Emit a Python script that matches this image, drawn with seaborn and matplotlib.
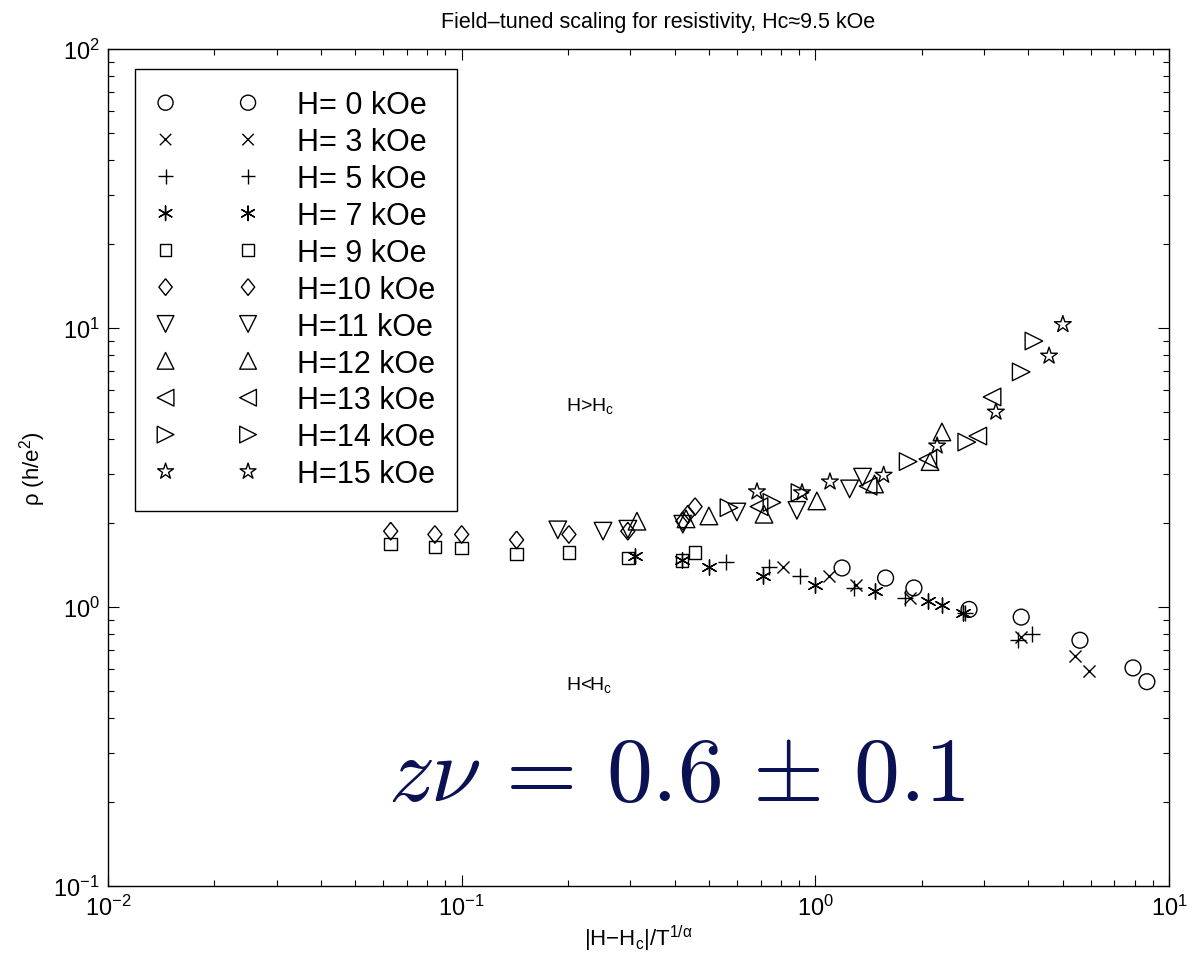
import pandas as pd
import seaborn as sns
import matplotlib
matplotlib.use('Agg')
import matplotlib.pyplot as plt

# scaled resistivity vs |H-Hc|/T^(1/alpha)
x_h0 = [1.19, 1.58, 1.90, 2.72, 3.82, 5.60, 7.91, 8.66]
y_h0 = [1.38, 1.27, 1.17, 0.98, 0.92, 0.76, 0.605, 0.54]
x_h3 = [0.81, 1.09, 1.30, 1.85, 3.82, 5.42, 5.94]
y_h3 = [1.39, 1.29, 1.20, 1.08, 0.78, 0.67, 0.59]
x_h5 = [0.56, 0.74, 0.905, 1.29, 1.79, 2.65, 3.74, 4.10]
y_h5 = [1.45, 1.39, 1.29, 1.17, 1.08, 0.95, 0.76, 0.80]
x_h7 = [0.31, 0.42, 0.50, 0.71, 1.00, 1.47, 2.08, 2.28, 2.62]
y_h7 = [1.52, 1.47, 1.39, 1.29, 1.20, 1.14, 1.05, 1.02, 0.95]
x_h9 = [0.063, 0.084, 0.100, 0.143, 0.201, 0.295, 0.420, 0.457]
y_h9 = [1.68, 1.64, 1.63, 1.55, 1.57, 1.50, 1.47, 1.57]
x_h10 = [0.063, 0.084, 0.100, 0.143, 0.201, 0.295, 0.422, 0.436, 0.457]
y_h10 = [1.87, 1.82, 1.82, 1.74, 1.82, 1.87, 2.03, 2.15, 2.29]
x_h11 = [0.187, 0.251, 0.295, 0.422, 0.600, 0.887, 1.25, 1.36]
y_h11 = [1.89, 1.87, 1.90, 1.98, 2.19, 2.22, 2.65, 2.92]
x_h12 = [0.313, 0.431, 0.500, 0.716, 1.01, 1.47, 2.11, 2.28]
y_h12 = [2.03, 2.07, 2.12, 2.15, 2.40, 2.76, 3.32, 4.24]
x_h13 = [0.693, 1.41, 2.08, 2.88, 3.16]
y_h13 = [2.29, 2.71, 3.39, 4.10, 5.66]
x_h14 = [0.570, 0.754, 0.905, 1.83, 2.68, 3.82, 4.15]
y_h14 = [2.27, 2.37, 2.57, 3.32, 3.90, 6.96, 8.98]
x_h15 = [0.684, 0.917, 1.10, 1.56, 2.21, 3.24, 4.58, 5.01]
y_h15 = [2.59, 2.57, 2.81, 2.97, 3.78, 5.00, 7.94, 10.3]

fields = [0, 3, 5, 7, 9, 10, 11, 12, 13, 14, 15]
xs = [x_h0, x_h3, x_h5, x_h7, x_h9, x_h10, x_h11, x_h12, x_h13, x_h14, x_h15]
ys = [y_h0, y_h3, y_h5, y_h7, y_h9, y_h10, y_h11, y_h12, y_h13, y_h14, y_h15]

rows = []
for h, xv, yv in zip(fields, xs, ys):
    for a, b in zip(xv, yv):
        rows.append({'H': h, 'x': a, 'rho': b})
df = pd.DataFrame(rows)

diamond = [(0, 1), (0.8, 0), (0, -1), (-0.8, 0), (0, 1)]
markers = ['o', 'x', '+', (6, 2, 0), 's', diamond, 'v', '^', '<', '>', '*']
sizes = [130, 75, 120, 120, 80, 160, 160, 160, 160, 160, 160]
line_art = [False, True, True, True, False, False, False, False, False, False, False]

sns.set_style('ticks')
plt.rcParams['font.family'] = ['Liberation Sans', 'DejaVu Sans']
plt.rcParams['mathtext.fontset'] = 'custom'
plt.rcParams['mathtext.rm'] = 'Liberation Sans'
plt.rcParams['mathtext.it'] = 'Liberation Sans'
for key in ['text.color', 'axes.labelcolor', 'xtick.color', 'ytick.color', 'axes.edgecolor']:
    plt.rcParams[key] = 'k'

fig = plt.figure(figsize=(12.02, 9.62), dpi=100)
ax = fig.add_axes([108 / 1202, 1 - 887 / 962, 1061 / 1202, 837 / 962])

for h, m, s, la in zip(fields, markers, sizes, line_art):
    sub = df[df['H'] == h]
    lab = 'H=%2d kOe' % h if h >= 10 else 'H= %d kOe' % h
    if la:
        sns.scatterplot(data=sub, x='x', y='rho', marker=m, s=s, color='k',
                        linewidth=1.0, ax=ax, label=lab)
    else:
        sns.scatterplot(data=sub, x='x', y='rho', marker=m, s=s, color='k',
                        facecolor='none', edgecolor='k', linewidth=1.0,
                        ax=ax, label=lab)

ax.set_xscale('log')
ax.set_yscale('log')
ax.set_xlim(1e-2, 1e1)
ax.set_ylim(1e-1, 1e2)

for sp in ax.spines.values():
    sp.set_visible(True)
    sp.set_linewidth(1.0)
    sp.set_color('k')
ax.tick_params(which='both', direction='in', top=True, right=True,
               colors='k', width=0.8, labelsize=17)
ax.tick_params(which='major', length=8, pad=6)
ax.tick_params(which='minor', length=4)

ax.set_xlabel(r'|H$-$H$_c$|/T$^{1/\alpha}$', fontsize=16, labelpad=2)
ax.set_ylabel(r'ρ (h/e$^2$)', fontsize=16, labelpad=4)
ax.set_title('Field–tuned scaling for resistivity, Hc≈9.5 kOe', fontsize=15.5,
             pad=16, x=0.518)

ax.text(0.197, 5.3, r'H>H$_c$', fontsize=14, va='center', ha='left')
ax.text(0.197, 0.53, r'H<H$_c$', fontsize=14, va='center', ha='left')
ax.text(0.536, 0.131, r'$z\nu\,=\,0.6\,\pm\,0.1$', transform=ax.transAxes,
        fontsize=66, math_fontfamily='cm', color='#0a1254',
        ha='center', va='center')

leg = ax.legend(loc='upper left', bbox_to_anchor=(27 / 1061, 1 - 20 / 837),
                borderaxespad=0, scatterpoints=2, scatteryoffsets=[0.5],
                fontsize=22, handlelength=3.3, handletextpad=1.3,
                labelspacing=0.225, borderpad=0.7, fancybox=False,
                edgecolor='k', framealpha=1, markerscale=0.95)
leg.get_frame().set_linewidth(1.0)

fig.savefig('out.png', dpi=100)
